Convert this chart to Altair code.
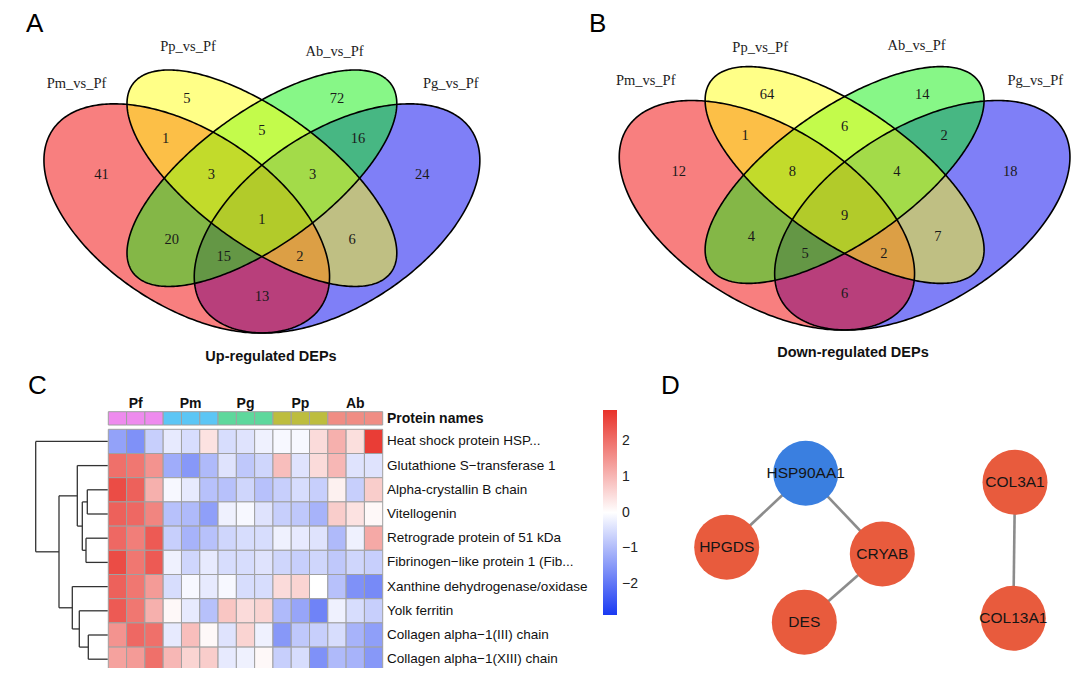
import numpy as np
import pandas as pd
import altair as alt

W, H = 1064, 660


def P(v):
    """page pixel -> canvas pixel (page has an 8px margin)"""
    return v - 8


SANS = "Liberation Sans"
SERIF = "Liberation Serif"

# ---------------- data: Venn diagrams (A, B) ----------------
set_names = ["Pm_vs_Pf", "Pp_vs_Pf", "Ab_vs_Pf", "Pg_vs_Pf"]
region_names = ["Pm", "Pp", "Ab", "Pg", "Pm&Pp", "Pp&Ab", "Ab&Pg", "Pm&Pp&Ab",
                "Pp&Ab&Pg", "Pm&Pp&Ab&Pg", "Pm&Ab", "Pp&Pg", "Pm&Ab&Pg", "Pm&Pp&Pg", "Pm&Pg"]
up_counts = [41, 5, 72, 24, 1, 5, 16, 3, 3, 1, 20, 6, 15, 2, 13]
down_counts = [12, 64, 14, 18, 1, 6, 2, 8, 4, 9, 4, 7, 5, 2, 6]

# ---------------- data: heatmap (C) ----------------
groups = ["Pf", "Pm", "Pg", "Pp", "Ab"]
group_colors = ["#EE8BEE", "#5CC6F5", "#5ED89C", "#BDBD3E", "#F08D84"]
samples = [g + str(i) for g in groups for i in (1, 2, 3)]
proteins = [
    "Heat shock protein HSP...",
    "Glutathione S\u2212transferase 1",
    "Alpha-crystallin B chain",
    "Vitellogenin",
    "Retrograde protein of 51 kDa",
    "Fibrinogen\u2212like protein 1 (Fib...",
    "Xanthine dehydrogenase/oxidase",
    "Yolk ferritin",
    "Collagen alpha\u22121(III) chain",
    "Collagen alpha\u22121(XIII) chain",
]
zscores = [
    [-1.35, -1.6, -0.7, -0.3, -0.5, 0.4, -0.5, -0.4, -0.2, -0.1, -0.1, 0.5, 1.1, 0.45, 2.7],
    [2.0, 1.9, 1.5, -1.2, -1.5, -1.0, -0.4, -0.8, -0.6, 0.9, -0.4, 0.5, 1.0, -0.4, -0.4],
    [2.5, 2.2, 1.1, -0.1, -0.3, -0.9, -0.9, -0.6, -0.9, -0.7, -0.5, -0.7, 0.2, -0.7, 0.7],
    [2.2, 2.1, 1.7, -0.9, -1.0, -1.4, -0.2, -0.1, -0.4, -0.7, -0.8, -1.1, 0.7, 0.4, 0.1],
    [2.1, 1.8, 2.3, -0.7, -1.1, -0.9, -0.6, -0.5, -0.5, -0.2, -0.3, -0.4, -1.0, -0.2, 1.2],
    [2.5, 1.9, 2.3, -0.2, -0.6, -0.3, -0.5, -0.5, -0.4, -0.6, -0.7, -0.6, -0.8, -0.6, -0.7],
    [2.2, 1.9, 1.4, -0.5, -0.1, -0.3, -0.1, -0.5, -0.5, 0.5, 0.6, 0.0, -0.9, -1.6, -1.7],
    [2.3, 1.9, 1.1, 0.1, -0.3, -0.9, 0.8, 0.5, 0.6, -1.0, -1.3, -1.8, -0.2, -0.5, -0.7],
    [1.5, 2.1, 2.0, -0.3, 0.9, 0.1, -0.4, 0.6, -0.2, -1.5, -0.8, -0.7, -0.5, -1.1, -1.4],
    [1.3, 1.4, 2.0, 1.0, 0.6, 0.7, -0.3, -0.2, 0.1, -0.7, -0.5, -1.6, -1.0, -1.1, -1.5],
]
# row dendrogram merges (left, right, distance); leaves are row indices 0..9
merges = [
    (2, 3, 20.4),
    (4, 5, 21.7),
    (10, 11, 25.4),
    (1, 12, 30.4),
    (8, 9, 19.4),
    (7, 14, 28.4),
    (6, 15, 35.4),
    (13, 16, 48.7),
    (0, 17, 72.0),
]

# ---------------- data: network (D) ----------------
node_names = ["HSP90AA1", "HPGDS", "CRYAB", "DES", "COL3A1", "COL13A1"]
node_class = ["hub", "other", "other", "other", "other", "other"]
edges = [("HSP90AA1", "HPGDS"), ("HSP90AA1", "CRYAB"), ("CRYAB", "DES"), ("COL3A1", "COL13A1")]

# ================= layout (geometry, positions) =================
# four-set Venn ellipses in unit space: cx, cy, a, b, angle
ELL = {
    "Pm_vs_Pf": (0.35, 0.47, 0.35, 0.20, -45),
    "Pp_vs_Pf": (0.50, 0.57, 0.35, 0.15, -45),
    "Ab_vs_Pf": (0.50, 0.57, 0.35, 0.15, 45),
    "Pg_vs_Pf": (0.65, 0.47, 0.35, 0.20, 45),
}
SET_FILL = {"Pm_vs_Pf": "#F20000", "Pp_vs_Pf": "#FFFF10", "Ab_vs_Pf": "#10F010", "Pg_vs_Pf": "#0000F0"}
DRAW_ORDER = ["Pg_vs_Pf", "Pm_vs_Pf", "Ab_vs_Pf", "Pp_vs_Pf"]
REG_UX = [0.18, 0.35, 0.65, 0.82, 0.308, 0.5, 0.692, 0.399, 0.601, 0.5, 0.32, 0.68, 0.424, 0.576, 0.5]
REG_UY = [0.578, 0.768, 0.768, 0.578, 0.668, 0.688, 0.668, 0.578, 0.578, 0.467, 0.416, 0.416, 0.375, 0.375, 0.275]
SETPOS_A = [(0.130, 0.804), (0.3525, 0.896), (0.645, 0.883), (0.877, 0.804)]
SETPOS_B = [(0.116, 0.804), (0.337, 0.886), (0.639, 0.890), (0.868, 0.804)]

NODE_POS = [(165.7, 103.3), (86.7, 177.3), (242.3, 184.0), (164.3, 252.3), (375.0, 112.3), (373.3, 248.3)]


def ellipse_band(cx, cy, a, b, deg, n=241):
    th = np.radians(deg)
    c, s = np.cos(th), np.sin(th)
    ext = np.sqrt(a * a * c * c + b * b * s * s)
    t = np.linspace(0, np.pi, n)
    dx = -ext * np.cos(t)
    A = s * s / a ** 2 + c * c / b ** 2
    B = 2 * dx * c * s * (1 / a ** 2 - 1 / b ** 2)
    C = dx * dx * (c * c / a ** 2 + s * s / b ** 2) - 1
    disc = np.sqrt(np.clip(B * B - 4 * A * C, 0, None))
    return cx + dx, cy + (-B - disc) / (2 * A), cy + (-B + disc) / (2 * A)


def ellipse_outline(cx, cy, a, b, deg, n=361):
    th = np.radians(deg)
    c, s = np.cos(th), np.sin(th)
    t = np.linspace(0, 2 * np.pi, n)
    return cx + a * np.cos(t) * c - b * np.sin(t) * s, cy + a * np.cos(t) * s + b * np.sin(t) * c


def text_at(txt, x, y, **kw):
    return alt.Chart(pd.DataFrame({"t": [txt]})).mark_text(**kw).encode(
        x=alt.value(P(x)), y=alt.value(P(y)), text="t:N")


def venn_layers(counts, x0, xs_px, ybase, ys_px, setpos, title, tx, ty):
    xsc = alt.Scale(domain=[0, 1], range=[P(x0), P(x0 + xs_px)], nice=False, zero=False)
    y0 = ybase + 0.185 * ys_px
    ysc = alt.Scale(domain=[0, 1], range=[P(y0), P(y0 - ys_px)], nice=False, zero=False)
    X = lambda f: alt.X(f, scale=xsc, axis=None)
    Y = lambda f: alt.Y(f, scale=ysc, axis=None)
    layers = []
    for name in DRAW_ORDER:
        ex, lo, hi = ellipse_band(*ELL[name])
        d = pd.DataFrame({"x": ex, "lo": lo, "hi": hi})
        layers.append(alt.Chart(d).mark_area(color=SET_FILL[name], opacity=0.5).encode(
            x=X("x:Q"), y=Y("lo:Q"), y2="hi:Q"))
    frames = []
    for name in set_names:
        ox, oy = ellipse_outline(*ELL[name])
        frames.append(pd.DataFrame({"set": name, "x": ox, "y": oy, "i": np.arange(len(ox))}))
    layers.append(alt.Chart(pd.concat(frames)).mark_line(color="#000000", strokeWidth=1.6).encode(
        x=X("x:Q"), y=Y("y:Q"), detail="set:N", order="i:Q"))
    rd = pd.DataFrame({"region": region_names, "n": counts, "ux": REG_UX, "uy": REG_UY})
    layers.append(alt.Chart(rd).mark_text(font=SERIF, fontSize=14.5, color="#1a1a1a", baseline="middle").encode(
        x=X("ux:Q"), y=Y("uy:Q"), text="n:Q"))
    sd = pd.DataFrame({"name": set_names, "ux": [p[0] for p in setpos], "uy": [p[1] for p in setpos]})
    layers.append(alt.Chart(sd).mark_text(font=SERIF, fontSize=14.5, color="#222222", baseline="middle").encode(
        x=X("ux:Q"), y=Y("uy:Q"), text="name:N"))
    layers.append(text_at(title, tx, ty, font=SANS, fontSize=14.5, fontWeight="bold", color="#111111",
                          baseline="middle"))
    return layers


layers = []
layers += venn_layers(up_counts, 11.4, 501, 333, 402, SETPOS_A, "Up-regulated DEPs", 271, 357)
layers += venn_layers(down_counts, 585.6, 518, 330, 402.6, SETPOS_B, "Down-regulated DEPs", 853, 353)

# ---------------- heatmap ----------------
HX0, HX1 = P(108.3), P(382.7)
HY0, HY1 = P(429.3), P(671.3)
xband = alt.Scale(type="band", domain=samples, range=[HX0, HX1], paddingInner=0, paddingOuter=0)
yband = alt.Scale(type="band", domain=proteins, range=[HY0, HY1], paddingInner=0, paddingOuter=0)
xpoint = alt.Scale(type="point", domain=samples, range=[HX0, HX1], padding=0.5)
ypoint = alt.Scale(type="point", domain=proteins, range=[HY0, HY1], padding=0.5)

hm = pd.DataFrame([(p, s, zscores[i][j]) for i, p in enumerate(proteins) for j, s in enumerate(samples)],
                  columns=["protein", "sample", "z"])
layers.append(alt.Chart(hm).mark_rect(stroke="#a0a0a0", strokeWidth=1).encode(
    x=alt.X("sample:N", scale=xband, axis=None),
    y=alt.Y("protein:N", scale=yband, axis=None),
    color=alt.Color("z:Q",
                    scale=alt.Scale(domain=[-2.86, 0, 2.86], range=["#1a3af2", "#ffffff", "#e8322a"],
                                    interpolate="rgb"),
                    legend=alt.Legend(orient="none", legendX=P(603), legendY=P(410), direction="vertical",
                                      title=None, gradientLength=205, gradientThickness=14,
                                      gradientStrokeWidth=0, values=[-2, -1, 0, 1, 2],
                                      labelFont=SANS, labelFontSize=14, labelColor="#222222",
                                      labelOffset=5, padding=0, labelOverlap=False)),
))

ann = pd.DataFrame({"sample": samples, "group": [g for g in groups for _ in range(3)]})
layers.append(alt.Chart(ann).mark_rect(stroke="#a0a0a0", strokeWidth=1).encode(
    x=alt.X("sample:N", scale=xband, axis=None),
    y=alt.value(P(411.7)), y2=alt.value(P(425)),
    color=alt.Color("group:N", scale=alt.Scale(domain=groups, range=group_colors), legend=None),
))
gl = pd.DataFrame({"sample": [g + "2" for g in groups], "group": groups})
layers.append(alt.Chart(gl).mark_text(font=SANS, fontSize=14, fontWeight="bold", color="#111111",
                                      baseline="middle").encode(
    x=alt.X("sample:N", scale=xpoint, axis=None), y=alt.value(P(403.5)), text="group:N"))

pn = pd.DataFrame({"protein": proteins})
layers.append(alt.Chart(pn).mark_text(font=SANS, fontSize=13.5, color="#111111", align="left",
                                      baseline="middle").encode(
    x=alt.value(P(387)), y=alt.Y("protein:N", scale=ypoint, axis=None), text="protein:N"))
layers.append(text_at("Protein names", 387, 419, font=SANS, fontSize=14, fontWeight="bold",
                      color="#111111", align="left", baseline="middle"))

# dendrogram segments computed from the merges
pos = {i: (i + 1.0, 0.0) for i in range(len(proteins))}
segs = []
for k, (l, r, h) in enumerate(merges):
    (yl, hl), (yr, hr) = pos[l], pos[r]
    segs.append((hl, h, yl, yl))
    segs.append((hr, h, yr, yr))
    segs.append((h, h, yl, yr))
    pos[len(proteins) + k] = ((yl + yr) / 2, h)
dd = pd.DataFrame(segs, columns=["h1", "h2", "r1", "r2"])
dx = alt.Scale(domain=[0, 72], range=[P(107.7), P(35.7)], nice=False, zero=False)
dy = alt.Scale(domain=[0.5, len(proteins) + 0.5], range=[HY0, HY1], nice=False, zero=False)
layers.append(alt.Chart(dd).mark_rule(color="#333333", strokeWidth=1.3).encode(
    x=alt.X("h1:Q", scale=dx, axis=None), x2="h2:Q",
    y=alt.Y("r1:Q", scale=dy, axis=None), y2="r2:Q"))

# ---------------- network ----------------
nx = alt.Scale(domain=[0, 440], range=[P(640), P(1080)], nice=False, zero=False)
ny = alt.Scale(domain=[0, 306], range=[P(370), P(676)], nice=False, zero=False)
nodes = pd.DataFrame({"name": node_names, "cls": node_class,
                      "x": [p[0] for p in NODE_POS], "y": [p[1] for p in NODE_POS]})
lookup = {n: p for n, p in zip(node_names, NODE_POS)}
ed = pd.DataFrame([(a, b, lookup[a][0], lookup[a][1], lookup[b][0], lookup[b][1]) for a, b in edges],
                  columns=["a", "b", "x1", "y1", "x2", "y2"])
layers.append(alt.Chart(ed).mark_rule(color="#8c8c8c", strokeWidth=2.6).encode(
    x=alt.X("x1:Q", scale=nx, axis=None), x2="x2:Q",
    y=alt.Y("y1:Q", scale=ny, axis=None), y2="y2:Q"))
layers.append(alt.Chart(nodes).mark_circle(size=4225, opacity=1).encode(
    x=alt.X("x:Q", scale=nx, axis=None), y=alt.Y("y:Q", scale=ny, axis=None),
    color=alt.Color("cls:N", scale=alt.Scale(domain=["hub", "other"], range=["#3A7FE0", "#E85B3D"]),
                    legend=None)))
layers.append(alt.Chart(nodes).mark_text(font=SANS, fontSize=15.5, color="#151515", baseline="middle").encode(
    x=alt.X("x:Q", scale=nx, axis=None), y=alt.Y("y:Q", scale=ny, axis=None), text="name:N"))

# ---------------- panel letters ----------------
for letter, lx, ly in [("A", 26, 32), ("B", 589, 32), ("C", 28, 394), ("D", 661, 394)]:
    layers.append(text_at(letter, lx, ly, font=SANS, fontSize=26, color="#000000", align="left",
                          baseline="alphabetic"))

chart = alt.layer(*layers).resolve_scale(
    x="independent", y="independent", color="independent"
).properties(
    width=W, height=H, padding=0, autosize=alt.AutoSizeParams(type="none")
).configure_view(stroke=None)

chart.save("out.html", embed_options={"renderer": "svg", "actions": False})
